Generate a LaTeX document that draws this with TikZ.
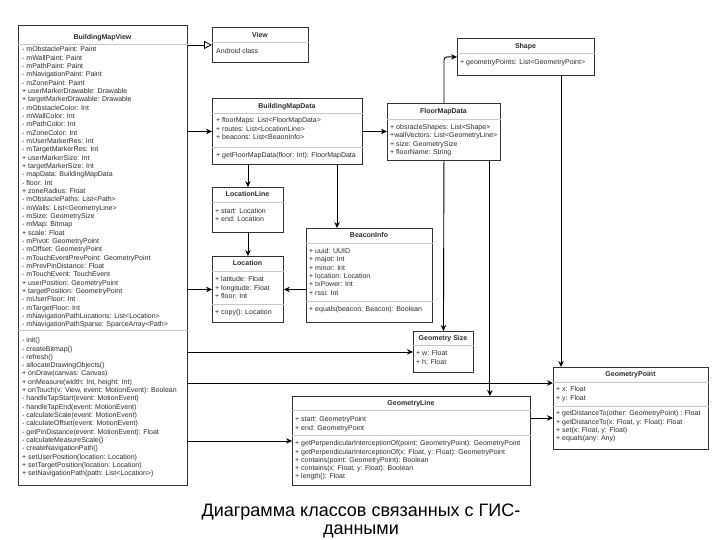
\documentclass[tikz,border=0pt]{standalone}
\usepackage{fontspec}
\setmainfont{Liberation Sans}
\usetikzlibrary{calc,arrows.meta}
\definecolor{edge}{HTML}{333333}
\definecolor{txt}{HTML}{2B2B2B}
\definecolor{rule}{HTML}{C8C8C8}
\tikzset{
  cls/.style={draw=edge, line width=0.9pt, fill=white, anchor=north west, inner sep=0pt},
  ttl/.style={text=txt, font=\fontsize{7}{8.33}\selectfont\bfseries, anchor=base, inner sep=0pt},
  mem/.style={text=txt, font=\fontsize{7}{8.33}\selectfont, align=left, anchor=north west, inner sep=0pt},
  sep/.style={draw=rule, line width=0.6pt},
  assoc/.style={draw=black, line width=0.9pt, -{Stealth[length=6pt,width=5.5pt]}},
  inherit/.style={draw=black, line width=0.8pt, -{Triangle[open,length=8pt,width=8pt]}},
}

\begin{document}
\begin{tikzpicture}[x=1pt,y=-1pt]
  \useasboundingbox (0,0) rectangle (720,540);
  \fill[white] (0,0) rectangle (720,540);

  % BuildingMapView
  \node[cls, minimum width=169pt, minimum height=460pt] (bmv) at (18,25) {};
  \node[ttl] at (102.5,39.5) {BuildingMapView};
  \draw[sep] ($(bmv.north west)+(0,19)$) -- ($(bmv.north east)+(0,19)$);
  \node[mem] at (22,46.7) {- mObstaclePaint: Paint\\
    - mWallPaint: Paint\\
    - mPathPaint: Paint\\
    - mNavigationPaint: Paint\\
    - mZonePaint: Paint\\
    + userMarkerDrawable: Drawable\\
    + targetMarkerDrawable: Drawable\\
    - mObstacleColor: Int\\
    - mWallColor: Int\\
    - mPathColor: Int\\
    - mZoneColor: Int\\
    - mUserMarkerRes: Int\\
    - mTargetMarkerRes: Int\\
    + userMarkerSize: Int\\
    + targetMarkerSize: Int\\
    - mapData: BuildingMapData\\
    - floor: Int\\
    + zoneRadius: Float\\
    - mObstaclePaths: List<Path>\\
    - mWalls: List<GeometryLine>\\
    - mSize: GeometrySize\\
    - mMap: Bitmap\\
    + scale: Float\\
    - mPivot: GeometryPoint\\
    - mOffset: GeometryPoint\\
    - mTouchEventPrevPoint: GeometryPoint\\
    - mPrevPinDistance: Float\\
    - mTouchEvent: TouchEvent\\
    + userPosition: GeometryPoint\\
    + targetPosition: GeometryPoint\\
    - mUserFloor: Int\\
    - mTargetFloor: Int\\
    - mNavigationPathLocations: List<Location>\\
    - mNavigationPathSparse: SparceArray<Path>};
  \draw[sep] ($(bmv.north west)+(0,305)$) -- ($(bmv.north east)+(0,305)$);
  \node[mem] at (22,337.4) {- init()\\
    - createBitmap()\\
    - refresh()\\
    - allocateDrawingObjects()\\
    + onDraw(canvas: Canvas)\\
    + onMeasure(width: Int, height: Int)\\
    + onTouch(v: View, event: MotionEvent): Boolean\\
    - handleTapStart(event: MotionEvent)\\
    - handleTapEnd(event: MotionEvent)\\
    - calculateScale(event: MotionEvent)\\
    - calculateOffset(event: MotionEvent)\\
    - getPinDistance(event: MotionEvent): Float\\
    - calculateMeasureScale()\\
    - createNavigationPath()\\
    + setUserPosition(location: Location)\\
    + setTargetPosition(location: Location)\\
    + setNavigationPath(path: List<Location>)};

  % View
  \node[cls, minimum width=96pt, minimum height=35pt] (view) at (212,27) {};
  \node[ttl] at (260,37.5) {View};
  \draw[sep] ($(view.north west)+(0,15)$) -- ($(view.north east)+(0,15)$);
  \node[mem] at (216,48.4) {Android class};

  % BuildingMapData
  \node[cls, minimum width=150pt, minimum height=66pt] (bmd) at (212,98) {};
  \node[ttl] at (287,108.5) {BuildingMapData};
  \draw[sep] ($(bmd.north west)+(0,15)$) -- ($(bmd.north east)+(0,15)$);
  \node[mem] at (216,117.4) {+ floorMaps: List<FloorMapData>\\
    + routes: List<LocationLine>\\
    + beacons: List<BeaonInfo>};
  \draw[sep] ($(bmd.north west)+(0,49)$) -- ($(bmd.north east)+(0,49)$);
  \node[mem] at (216,152.4) {+ getFloorMapData(floor: Int): FloorMapData};

  % FloorMapData
  \node[cls, minimum width=113pt, minimum height=57pt] (fmd) at (387,103) {};
  \node[ttl] at (443.5,113.5) {FloorMapData};
  \draw[sep] ($(fmd.north west)+(0,16)$) -- ($(fmd.north east)+(0,16)$);
  \node[mem] at (390,124.1) {+ obsracleShapes: List<Shape>\\
    +wallVectors: List<GeometryLine>\\
    + size: GeometrySize\\
    + floorName: String};

  % Shape
  \node[cls, minimum width=137pt, minimum height=37pt] (shape) at (457,38) {};
  \node[ttl] at (525.5,48.2) {Shape};
  \draw[sep] ($(shape.north west)+(0,15)$) -- ($(shape.north east)+(0,15)$);
  \node[mem] at (460,59.4) {+ geometryPoints: List<GeometryPoint>};

  % LocationLine
  \node[cls, minimum width=71pt, minimum height=45pt] (ll) at (212,187) {};
  \node[ttl] at (247.5,196.5) {LocationLine};
  \draw[sep] ($(ll.north west)+(0,15)$) -- ($(ll.north east)+(0,15)$);
  \node[mem] at (215,208.1) {+ start: Location\\
    + end: Location};

  % Location
  \node[cls, minimum width=71pt, minimum height=66pt] (loc) at (212,256) {};
  \node[ttl] at (247.5,265.5) {Location};
  \draw[sep] ($(loc.north west)+(0,15)$) -- ($(loc.north east)+(0,15)$);
  \node[mem] at (215,276.4) {+ latitude: Float\\
    + longitude: Float\\
    + floor: Int};
  \draw[sep] ($(loc.north west)+(0,48)$) -- ($(loc.north east)+(0,48)$);
  \node[mem] at (215,309.4) {+ copy(): Location};

  % BeaconInfo
  \node[cls, minimum width=126pt, minimum height=94pt] (bi) at (306,228) {};
  \node[ttl] at (369,237.5) {BeaconInfo};
  \draw[sep] ($(bi.north west)+(0,15)$) -- ($(bi.north east)+(0,15)$);
  \node[mem] at (309,248.1) {+ uuid: UUID\\
    + majot: Int\\
    + minor: Int\\
    + location: Location\\
    + txPower: Int\\
    + rssi: Int};
  \draw[sep] ($(bi.north west)+(0,73)$) -- ($(bi.north east)+(0,73)$);
  \node[mem] at (309,306.4) {+ equals(beacon: Beacon): Boolean};

  % GeometrySize
  \node[cls, minimum width=60pt, minimum height=41pt] (gs) at (413,331) {};
  \node[ttl] at (443,340) {Geometry Size};
  \draw[sep] ($(gs.north west)+(0,14)$) -- ($(gs.north east)+(0,14)$);
  \node[mem] at (416,350.4) {+ w: Float\\
    + h: Float};

  % GeometryPoint
  \node[cls, minimum width=155pt, minimum height=82pt] (gp) at (553,367) {};
  \node[ttl] at (630.5,376.5) {GeometryPoint};
  \draw[sep] ($(gp.north west)+(0,15)$) -- ($(gp.north east)+(0,15)$);
  \node[mem] at (556,386.4) {+ x: Float\\
    + y: Float};
  \draw[sep] ($(gp.north west)+(0,39)$) -- ($(gp.north east)+(0,39)$);
  \node[mem] at (556,410.4) {+ getDistanceTo(other: GeometryPoint) : Float\\
    + getDistanceTo(x: Float, y: Float): Float\\
    + set(x: Float, y: Float)\\
    + equals(any: Any)};

  % GeometryLine
  \node[cls, minimum width=238pt, minimum height=89pt] (gl) at (292,396) {};
  \node[ttl] at (411,405.5) {GeometryLine};
  \draw[sep] ($(gl.north west)+(0,14)$) -- ($(gl.north east)+(0,14)$);
  \node[mem] at (295,416.4) {+ start: GeometryPoint\\
    + end: GeometryPoint};
  \draw[sep] ($(gl.north west)+(0,39)$) -- ($(gl.north east)+(0,39)$);
  \node[mem] at (295,440.4) {+ getPerpendicularInterceptionOf(point: GeometryPoint): GeometryPoint\\
    + getPerpendicularInterceptionOf(x: Float, y: Float): GeometryPoint\\
    + contains(point: GeometryPoint): Boolean\\
    + contains(x: Float, y: Float): Boolean\\
    + length(): Float};

  % connectors
  \coordinate (biin) at ([xshift=31pt]bi.north west);
  \coordinate (glin) at ([xshift=-11pt]fmd.south east);
  \coordinate (gpin) at ([xshift=8pt]gp.north west);
  \coordinate (gpleft) at ([yshift=-16pt]gp.north west);
  \coordinate (gpline) at ([yshift=-51pt]gp.north west);

  \draw[inherit] (bmv.east |- view.west) -- (view.west);
  \draw[assoc] (bmv.east |- bmd.west) -- (bmd.west);
  \draw[assoc] (bmd.east) -- (fmd.west |- bmd.east);
  \draw[assoc, rounded corners=3pt] (fmd.north) |- (shape.west);
  \draw[assoc] (bmd.south -| ll.north) -- (ll.north);
  \draw[assoc] (ll.south) -- (loc.north);
  \draw[assoc] (biin |- bmd.south) -- (biin);
  \draw[assoc] (bi.west |- loc.east) -- (loc.east);
  \draw[assoc] (bmv.east |- loc.west) -- (loc.west);
  \draw[assoc] (fmd.south) -- (gs.north);
  \draw[assoc] (glin) -- (glin |- gl.north);
  \draw[assoc] (gpin |- shape.south) -- (gpin);
  \draw[assoc] (bmv.east |- gs.west) -- (gs.west);
  \draw[assoc] (bmv.east |- gpleft) -- (gpleft);
  \draw[assoc] (bmv.east |- gl.west) -- (gl.west);
  \draw[assoc] (gl.east |- gpline) -- (gpline);

  % caption
  \node[font=\fontsize{18}{17.5}\selectfont, align=center, inner sep=0pt] (cap) at (361,521)
    {Диаграмма классов связанных с ГИС-\\данными};
\end{tikzpicture}
\end{document}
